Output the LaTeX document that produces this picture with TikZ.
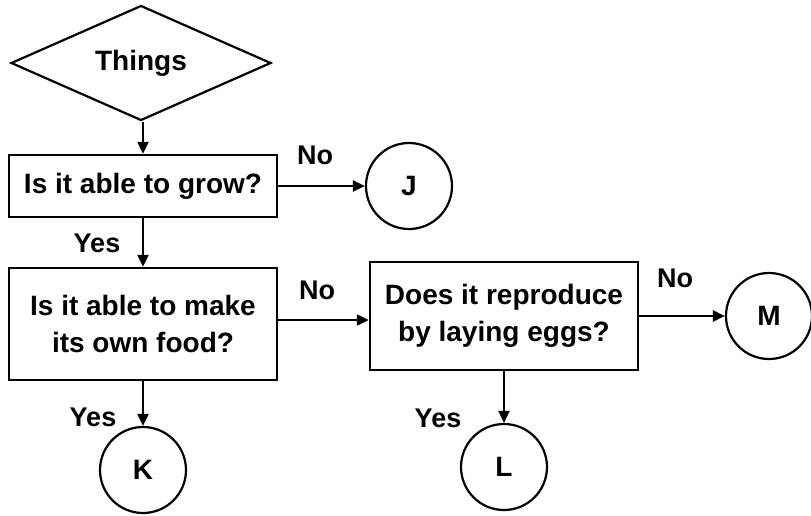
\documentclass[tikz,border=0pt]{standalone}
\usepackage{fontspec}
\setmainfont{Liberation Sans}
\usetikzlibrary{arrows.meta,shapes.geometric}
\begin{document}
\begin{tikzpicture}[x=1pt,y=-1pt,
  every node/.style={font=\bfseries\fontsize{28}{37}\selectfont},
  qbox/.style={draw,line width=2.4pt,rectangle,inner sep=0pt,align=center},
  endc/.style={draw,line width=2.2pt,circle,inner sep=0pt,minimum size=86pt},
  lbl/.style={font=\bfseries\fontsize{27}{32}\selectfont,inner sep=0pt},
  arr/.style={line width=2.2pt,-{Triangle[length=12pt,width=11pt]}}]
\useasboundingbox (0,0) rectangle (811,515);
\node[draw,line width=2.2pt,diamond,inner sep=0pt,minimum width=260pt,minimum height=115pt,aspect=2.3] (th) at (141,63) {Things};
\node[qbox,minimum width=268pt,minimum height=62pt] (b1) at (143,186) {Is it able to grow?};
\node[endc] (J) at (409,186) {J};
\node[qbox,minimum width=268pt,minimum height=112pt] (b2) at (143,324) {Is it able to make\\its own food?};
\node[qbox,minimum width=268pt,minimum height=108pt] (b3) at (504,316) {Does it reproduce\\by laying eggs?};
\node[endc] (M) at (769,316) {M};
\node[endc] (K) at (143,470) {K};
\node[endc] (L) at (504,467) {L};
\draw[arr] (th.south -| b1.north) -- (b1.north);
\draw[arr] (b1.east) -- (J.west);
\draw[arr] (b1.south) -- (b2.north);
\draw[arr] ([yshift=4pt]b2.east) -- ([yshift=-4pt]b3.west);
\draw[arr] (b3.east) -- (M.west);
\draw[arr] (b2.south) -- (K.north);
\draw[arr] (b3.south) -- (L.north);
\node[lbl] (n1) at (315,155) {No};
\node[lbl] (y1) at (97,243) {Yes};
\node[lbl] (n2) at (317,290) {No};
\node[lbl] (n3) at (675,278) {No};
\node[lbl] (y2) at (93,417) {Yes};
\node[lbl] (y3) at (438,418) {Yes};
\end{tikzpicture}
\end{document}
